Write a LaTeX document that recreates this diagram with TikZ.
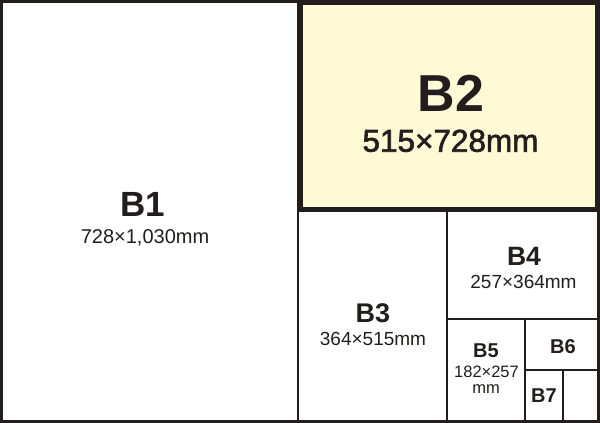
\documentclass[tikz,border=0pt]{standalone}
\usepackage{fontspec}
\setmainfont{Liberation Sans}
\newfontfamily\medfont[FakeBold=2]{Liberation Sans}
\definecolor{ink}{RGB}{35,30,30}
\definecolor{paperB2}{RGB}{255,250,214}
\newcommand{\fs}[1]{\fontsize{#1}{#1}\selectfont}
\begin{document}
\begin{tikzpicture}[x=1pt,y=-1pt,
  rule/.style={draw=ink,line width=2pt},
  sheetlabel/.style={text=ink,inner sep=0pt,anchor=base,font=\bfseries},
  dims/.style={text=ink,inner sep=0pt,anchor=base}]
\useasboundingbox (0,0) rectangle (600,423);
\fill[white] (0,0) rectangle (600,423);
\fill[paperB2] (300,2) rectangle (598,209);
% dividing lines
\draw[rule] (298.3,0) -- (298.3,423);
\draw[rule] (447,209) -- (447,423);
\draw[rule] (447,318.5) -- (600,318.5);
\draw[rule] (525,318.5) -- (525,423);
\draw[rule] (525,369.5) -- (600,369.5);
\draw[rule] (562.5,369.5) -- (562.5,423);
% outer border
\draw[ink,line width=2.6pt] (1.3,1.3) rectangle (598.7,421.7);
% B2 highlighted border
\draw[ink,line width=5pt] (300.5,2.5) rectangle (597.5,209);
% labels
\node[sheetlabel,font=\bfseries\fs{35}] (b1) at (143,216) {B1};
\node[dims,font=\fs{20}] (b1d) at (145,243) {728×1,030mm};
\node[sheetlabel,font=\bfseries\fs{52}] (b2) at (451,111.7) {B2};
\node[dims,font=\medfont\fs{31.5}] (b2d) at (450.5,151.7) {515×728mm};
\node[sheetlabel,font=\bfseries\fs{27}] (b3) at (373,322.7) {B3};
\node[dims,font=\fs{19}] (b3d) at (373,345.7) {364×515mm};
\node[sheetlabel,font=\bfseries\fs{26.5}] (b4) at (524,265) {B4};
\node[dims,font=\fs{19}] (b4d) at (523.5,288.3) {257×364mm};
\node[sheetlabel,font=\bfseries\fs{20}] (b5) at (486,357.7) {B5};
\node[dims,font=\fs{16.5}] (b5d) at (486.5,377.7) {182×257};
\node[dims,font=\fs{16.5}] (b5m) at (486,393.3) {mm};
\node[sheetlabel,font=\bfseries\fs{20}] (b6) at (563,353.3) {B6};
\node[sheetlabel,font=\bfseries\fs{20}] (b7) at (544,402.7) {B7};
\end{tikzpicture}
\end{document}
